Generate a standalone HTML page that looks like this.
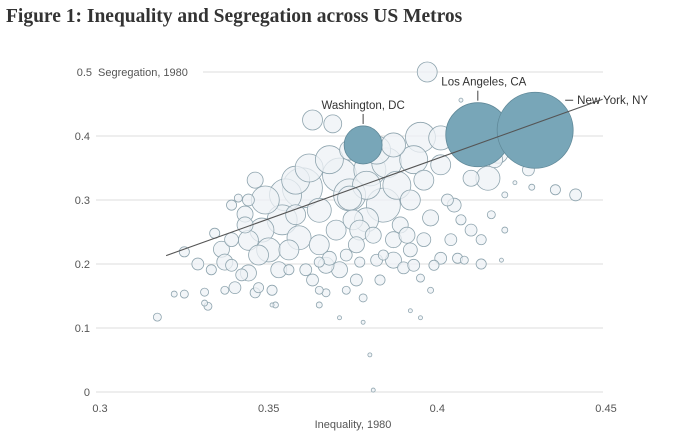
<!DOCTYPE html>
<html><head><meta charset="utf-8">
<style>
body{margin:0;background:#fff;width:686px;height:436px;overflow:hidden;}
svg{display:block;font-family:"Liberation Sans",sans-serif;}
</style></head>
<body>
<svg id="chart" width="686" height="436" viewBox="0 0 686 436">
<text x="6" y="22" font-family="Liberation Serif, serif" font-weight="bold" font-size="19.5" fill="#333">Figure 1: Inequality and Segregation across US Metros</text>
<g id="grid"></g><g id="bubbles"></g><g id="overlay"></g>
</svg>
<script>
const xTicks=[0.3,0.35,0.4,0.45];
const xTickLabels=["0.3","0.35","0.4","0.45"];
const yTicks=[0,0.1,0.2,0.3,0.4,0.5];
const yTickLabels=["0","0.1","0.2","0.3","0.4","0.5"];
const inequality=[0.317,0.325,0.322,0.325,0.329,0.331,0.331,0.332,0.334,0.336,0.337,0.339,0.340,0.341,0.343,0.344,0.344,0.346,0.347,0.348,0.349,0.350,0.351,0.352,0.353,0.354,0.355,0.356,0.358,0.359,0.360,0.362,0.363,0.363,0.365,0.365,0.367,0.368,0.369,0.370,0.371,0.371,0.373,0.374,0.374,0.375,0.376,0.376,0.378,0.379,0.380,0.381,0.382,0.382,0.384,0.385,0.387,0.387,0.388,0.389,0.390,0.391,0.392,0.393,0.395,0.396,0.397,0.398,0.399,0.401,0.401,0.403,0.404,0.405,0.407,0.407,0.410,0.413,0.415,0.416,0.417,0.418,0.420,0.420,0.423,0.427,0.428,0.435,0.441,0.427,0.413,0.419,0.380,0.381,0.392,0.395,0.395,0.378,0.371,0.365,0.351,
0.356,0.361,0.368,0.377,0.384,0.393,0.396,0.358,0.365,0.373,0.347,0.342,0.337,0.333,0.339,0.344,0.346,0.339,0.343,0.377,0.387,0.383,0.392,0.401,0.406,0.410,0.408,0.398,0.374,0.379,0.367,0.365];
const segregation=[0.117,0.219,0.153,0.153,0.200,0.156,0.139,0.134,0.248,0.223,0.203,0.198,0.163,0.303,0.278,0.237,0.186,0.155,0.214,0.253,0.300,0.222,0.159,0.136,0.191,0.269,0.308,0.222,0.331,0.241,0.319,0.350,0.425,0.175,0.203,0.284,0.155,0.363,0.419,0.253,0.339,0.191,0.214,0.303,0.378,0.269,0.230,0.175,0.147,0.323,0.347,0.245,0.206,0.378,0.292,0.358,0.238,0.386,0.323,0.261,0.194,0.245,0.300,0.363,0.398,0.331,0.500,0.272,0.198,0.397,0.355,0.300,0.238,0.292,0.456,0.269,0.334,0.238,0.334,0.277,0.363,0.373,0.253,0.308,0.327,0.347,0.320,0.316,0.308,0.370,0.200,0.206,0.058,0.003,0.127,0.116,0.178,0.109,0.116,0.136,0.136,
0.191,0.191,0.209,0.203,0.214,0.198,0.238,0.277,0.159,0.159,0.163,0.183,0.159,0.191,0.238,0.300,0.331,0.292,0.261,0.253,0.206,0.175,0.222,0.209,0.209,0.253,0.206,0.159,0.308,0.269,0.198,0.230];
const population=[0.1,0.16,0.056,0.1,0.22,0.1,0.056,0.1,0.16,0.4,0.4,0.22,0.22,0.1,0.4,0.62,0.4,0.16,0.62,0.9,1.22,0.9,0.16,0.056,0.4,1.4,1.6,0.62,1.22,0.9,2.5,1.22,0.62,0.22,0.16,0.9,0.1,1.22,0.5,0.62,1.8,0.4,0.22,0.9,0.62,0.62,0.4,0.22,0.1,1.22,1.6,0.4,0.22,1.22,1.8,1.4,0.4,0.9,1.22,0.4,0.22,0.4,0.62,1.22,1.4,0.62,0.62,0.4,0.16,0.9,0.62,0.22,0.22,0.3,0.025,0.16,0.4,0.16,0.9,0.1,0.4,0.62,0.056,0.056,0.025,0.22,0.056,0.16,0.22,0.056,0.16,0.025,0.025,0.025,0.025,0.025,0.1,0.025,0.025,0.056,0.025,
0.16,0.22,0.3,0.16,0.16,0.22,0.3,0.62,0.1,0.1,0.16,0.22,0.1,0.16,0.3,0.22,0.4,0.16,0.4,0.62,0.4,0.16,0.3,0.22,0.16,0.22,0.1,0.056,1.6,0.9,0.4,0.62];
const highlightNames=["Washington, DC","Los Angeles, CA","New York, NY"];
const highlightX=[0.378,0.412,0.429];
const highlightY=[0.386,0.402,0.409];
const highlightPop=[2.25,6.4,9.0];
const trendStartX=0.3196, trendEndX=0.449, trendIntercept=-0.3903, trendSlope=1.8880;

const NS="http://www.w3.org/2000/svg";
const X=v=>100+(v-0.3)/0.15*506;
const Y=v=>392-v*640;
const R=p=>12.67*Math.sqrt(p);
function mk(tag,attrs,parent,txt){const e=document.createElementNS(NS,tag);for(const k in attrs)e.setAttribute(k,attrs[k]);if(txt!==undefined)e.textContent=txt;parent.appendChild(e);return e;}
const grid=document.getElementById('grid'),bub=document.getElementById('bubbles'),ov=document.getElementById('overlay');
yTicks.forEach((t,i)=>{
  const gl=mk('line',{x1:i===5?203:96,x2:603,y1:Y(t),y2:Y(t),stroke:'#dcdcdc','stroke-width':1},grid);
  
  
  const lb=mk('text',{x:i===5?92:90,y:Y(t)+4,'text-anchor':'end','font-size':11,fill:'#555'},grid,yTickLabels[i]);
  
  
});
const yt=mk('text',{x:98,y:Y(0.5)+4,'font-size':11,fill:'#555'},grid,'Segregation, 1980');


xTicks.forEach((t,i)=>{
  const lb=mk('text',{x:X(t),y:412,'text-anchor':'middle','font-size':11,fill:'#555'},grid,xTickLabels[i]);
  
  
});
const xt=mk('text',{x:X(0.375),y:428,'text-anchor':'middle','font-size':11,fill:'#555'},grid,'Inequality, 1980');


const idx=population.map((p,i)=>i).sort((a,b)=>population[b]-population[a]);
idx.forEach(i=>{
  const c=mk('circle',{cx:X(inequality[i]),cy:Y(segregation[i]),r:R(population[i]),fill:'#edf2f5','fill-opacity':0.75,stroke:'#8ea4ae','stroke-width':0.8},bub);
  
  
});
highlightNames.forEach((n,i)=>{
  const c=mk('circle',{cx:X(highlightX[i]),cy:Y(highlightY[i]),r:R(highlightPop[i]),fill:'#78a6b8',stroke:'#5f8898','stroke-width':0.8},bub);
  
  
});
const tl=mk('line',{x1:X(trendStartX),y1:Y(trendIntercept+trendSlope*trendStartX),x2:X(trendEndX),y2:Y(trendIntercept+trendSlope*trendEndX),stroke:'#555','stroke-width':1.1},ov);


const lx=[X(highlightX[0]),X(highlightX[1])+6];
[0,1].forEach(i=>{
  const cx=X(highlightX[i]),cy=Y(highlightY[i]),r=R(highlightPop[i]);
  const l=mk('line',{x1:cx,x2:cx,y1:cy-r-2,y2:cy-r-12,stroke:'#444','stroke-width':1},ov);
  
  
  const t=mk('text',{x:lx[i],y:cy-r-17,'text-anchor':'middle','font-size':11.5,fill:'#333'},ov,highlightNames[i]);
  
  
});
{
  const cx=X(highlightX[2])+R(highlightPop[2]),cy=Y(highlightY[2])-30;
  const l=mk('line',{x1:cx-8,x2:cx,y1:cy,y2:cy,stroke:'#444','stroke-width':1},ov);
  
  
  const t=mk('text',{x:cx+4,y:cy+4,'font-size':11.5,fill:'#333'},ov,highlightNames[2]);
  
  
}
</script>
</body></html>
